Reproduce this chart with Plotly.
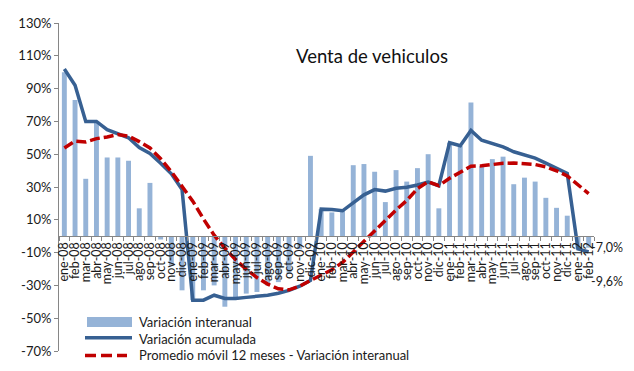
import plotly.graph_objects as go

# Monthly categories, Jan 2008 - Feb 2012
meses = [
    "ene-08", "feb-08", "mar-08", "abr-08", "may-08", "jun-08", "jul-08", "ago-08", "sep-08", "oct-08", "nov-08", "dic-08",
    "ene-09", "feb-09", "mar-09", "abr-09", "may-09", "jun-09", "jul-09", "ago-09", "sep-09", "oct-09", "nov-09", "dic-09",
    "ene-10", "feb-10", "mar-10", "abr-10", "may-10", "jun-10", "jul-10", "ago-10", "sep-10", "oct-10", "nov-10", "dic-10",
    "ene-11", "feb-11", "mar-11", "abr-11", "may-11", "jun-11", "jul-11", "ago-11", "sep-11", "oct-11", "nov-11", "dic-11",
    "ene-12", "feb-12",
]

# Year-on-year change (%)
interanual = [
    100, 83, 35, 69, 48, 48, 46, 17, 32.5, -2, -18, -33,
    -39, -33, -30, -43, -38, -35, -34, -30, -28, -23, -8, 49,
    16.5, 14.5, 15.5, 43.3, 44, 39.3, 20.8, 40.3, 33.3, 41.5, 50, 17,
    57, 55, 81.5, 42.7, 47, 48.5, 31.7, 35.7, 33.3, 23.4, 17.3, 12.5,
    -8, -7.0,
]

# Year-to-date cumulative change (%)
acumulada = [
    102, 92, 70, 70, 65, 62.5, 60, 54, 50.5, 44.5, 38, 28.5,
    -39, -39, -36, -38, -38, -37.3, -36.8, -36, -34.8, -33, -30.5, -27,
    16.5, 16.3, 15.5, 20.5, 25.2, 28.4, 27.5, 29.2, 29.8, 31.2, 33, 30.8,
    57, 55.2, 64.5, 58.5, 56.3, 54.5, 51.5, 49.3, 47.6, 44.6, 41.3, 38.3,
    -7.7, -9.6,
]

# 12-month moving average of the year-on-year change (%)
promedio_movil = [
    53.8, 58, 57.5, 59.5, 60.5, 62, 61, 57.7, 53.8, 47.2, 39.3, 30,
    21.4, 10.5, 0.6, -7.3, -14.3, -20.2, -25.2, -29.2, -32.1, -32.7, -30.5, -27,
    -24, -20.5, -16, -9.5, -3, 3.5, 10, 16, 21.8, 29, 33.3, 30.8,
    35.3, 38.7, 42.7, 42.9, 43.8, 44.5, 44.6, 44.3, 43.7, 42.3, 39.9, 36.7,
    31.4, 26,
]

y_ticks = [-70, -50, -30, -10, 10, 30, 50, 70, 90, 110, 130]
y_tick_text = ["-70%", "-50%", "-30%", "-10%", "10%", "30%", "50%", "70%", "90%", "110%", "130%"]

titulo = "Venta de vehiculos"
nombres = ["Variación interanual", "Variación acumulada", "Promedio móvil 12 meses - Variación interanual"]

BAR = "#95B3D7"
BLUE = "#376092"
RED = "#C00000"
GREY = "#868686"
FONT = "Lato"

W, H = 634, 371
ML, MR, MT, MB = 59, 40, 23, 14
PW, PH = W - ML - MR, H - MT - MB


def px(x):
    return (x - ML) / PW


def py(y):
    return (H - MB - y) / PH


fig = go.Figure()
fig.add_trace(go.Bar(x=meses, y=interanual, name=nombres[0], marker_color=BAR,
                     marker_line_width=0, showlegend=False))
fig.add_trace(go.Scatter(x=meses, y=acumulada, name=nombres[1], mode="lines",
                         line=dict(color=BLUE, width=3.5), showlegend=False))
fig.add_trace(go.Scatter(x=meses, y=promedio_movil, name=nombres[2], mode="lines",
                         line=dict(color=RED, width=3.5, dash="10px,4px"), showlegend=False))

y_min, y_max = -70, 130
zero_pos = (0 - y_min) / (y_max - y_min)

fig.update_layout(
    width=W, height=H,
    margin=dict(l=ML, r=MR, t=MT, b=MB),
    paper_bgcolor="white", plot_bgcolor="white",
    font=dict(family=FONT, color="#222222"),
    bargap=0.54,
    xaxis=dict(
        type="category", anchor="free", position=zero_pos,
        tickmode="array", tickvals=meses, ticktext=meses,
        showline=True, linecolor=GREY, linewidth=1,
        ticks="outside", ticklen=4, tickcolor=GREY, tickson="boundaries",
        tickangle=-90, tickfont=dict(size=12.5, family=FONT, color="#1a1a1a"),
        showgrid=False, zeroline=False, range=[-0.5, len(meses) - 0.5],
    ),
    yaxis=dict(
        range=[y_min, y_max], tickvals=y_ticks, ticktext=y_tick_text,
        showline=True, linecolor=GREY, linewidth=1,
        ticks="outside", ticklen=4, tickcolor=GREY,
        tickfont=dict(size=13, family=FONT, color="#1a1a1a"),
        showgrid=False, zeroline=False,
    ),
)

annotations = [
    dict(text=titulo, xref="paper", yref="paper", x=px(372), y=py(57),
         xanchor="center", yanchor="middle", showarrow=False,
         font=dict(size=18.5, family=FONT, color="#111111")),
    # value labels for the last month
    dict(text=f"{interanual[-1]:.1f}%".replace(".", ","), x=meses[-1], y=interanual[-1],
         xref="x", yref="y", xanchor="left", yanchor="middle", xshift=0, showarrow=False,
         font=dict(size=12.5, family=FONT, color="#1a1a1a")),
    dict(text=f"{acumulada[-1]:.1f}%".replace(".", ","), x=meses[-1], y=acumulada[-1],
         xref="x", yref="y", xanchor="left", yanchor="middle", xshift=0, yshift=-30,
         showarrow=False, font=dict(size=12.5, family=FONT, color="#1a1a1a")),
]

# legend drawn below the series
legend_rows = [327.5, 344.5, 361.5]
for name, yrow in zip(nombres, legend_rows):
    annotations.append(dict(text=name, xref="paper", yref="paper", x=px(137), y=py(yrow),
                            xanchor="left", yanchor="middle", showarrow=False,
                            font=dict(size=13, family=FONT, color="#1a1a1a")))

shapes = [
    dict(type="rect", xref="paper", yref="paper", x0=px(87), x1=px(132), y0=py(332.5), y1=py(322.5),
         fillcolor=BAR, line=dict(width=0)),
    dict(type="line", xref="paper", yref="paper", x0=px(85), x1=px(132), y0=py(343.5), y1=py(343.5),
         line=dict(color=BLUE, width=3.5)),
    dict(type="line", xref="paper", yref="paper", x0=px(85), x1=px(127), y0=py(361.5), y1=py(361.5),
         line=dict(color=RED, width=3.5, dash="11px,5px")),
]

fig.update_layout(annotations=annotations, shapes=shapes)
fig.write_html("out.html")
